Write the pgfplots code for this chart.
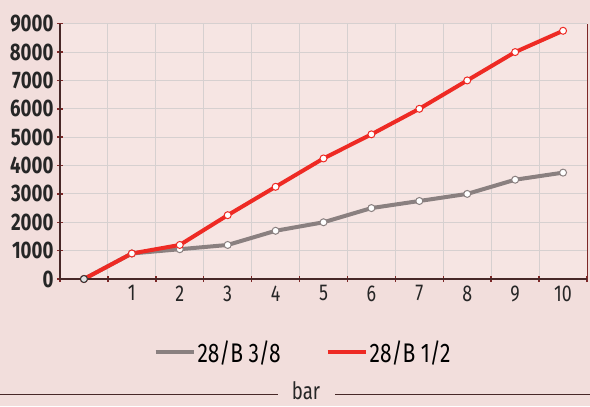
\documentclass[border=0pt]{standalone}
\usepackage{pgfplots}
\pgfplotsset{compat=1.18}
\usepackage{fontspec}
\setmainfont{Fira Sans}[FakeStretch=0.78]
\definecolor{bgpink}{RGB}{242,222,220}
\definecolor{plotpink}{RGB}{246,229,227}
\definecolor{redline}{RGB}{238,42,36}
\definecolor{grayline}{RGB}{138,128,128}
\definecolor{gridc}{RGB}{214,208,208}
\definecolor{spine}{RGB}{72,40,40}
\definecolor{tickc}{RGB}{125,40,40}
\begin{document}
\begin{tikzpicture}[x=1bp,y=1bp]
\useasboundingbox (0,0) rectangle (590,406);
\fill[bgpink] (0,0) rectangle (590,406);
\begin{axis}[
  at={(60bp,127bp)}, anchor=south west,
  scale only axis, width=527bp, height=255.3bp,
  xmin=-0.5, xmax=10.5, ymin=0, ymax=9000,
  clip=false,
  axis background/.style={fill=plotpink},
  axis line style={draw=none},
  xtick={1,...,10},
  minor xtick={-0.5,0.5,...,10.5},
  ytick={0,1000,...,9000},
  xtick pos=bottom, ytick pos=left,
  tick align=center,
  major tick length=6bp, minor tick length=6bp,
  major x tick style={draw=none},
  tick style={tickc, line width=1.5bp},
  ymajorgrids, xminorgrids,
  grid style={gridc, line width=1bp},
  minor grid style={gridc, line width=1bp},
  scaled y ticks=false,
  /pgf/number format/.cd, set thousands separator={}, assume math mode=true,
  /pgfplots/.cd,
  xticklabel style={font=\fontsize{23}{23}\selectfont, text=black!85},
  yticklabel style={font=\bfseries\fontsize{24}{24}\selectfont, text=black!85},
  legend style={at={(0.461,-0.286)}, anchor=center, legend columns=2,
    draw=none, fill=none, font=\fontsize{27}{27}\selectfont,
    /tikz/every even column/.append style={column sep=43bp}},
  legend cell align=left,
  legend image code/.code={\draw[#1] (0bp,0bp) -- (38bp,0bp);},
]
\addplot[grayline, line width=4bp, mark=*, mark size=3.5bp,
  mark options={fill=white, draw=grayline, line width=1bp}] coordinates {
  (0,0) (1,900) (2,1050) (3,1200) (4,1700) (5,2000) (6,2500) (7,2750) (8,3000) (9,3500) (10,3750)};
\addlegendentry{28/B 3/8}
\addplot[redline, line width=4bp, mark=*, mark size=3.5bp,
  mark options={fill=white, draw=redline, line width=1bp}] coordinates {
  (0,0) (1,900) (2,1200) (3,2250) (4,3250) (5,4250) (6,5100) (7,6000) (8,7000) (9,8000) (10,8750)};
\addlegendentry{28/B 1/2}
\addplot[only marks, mark=*, mark size=3.5bp, forget plot,
  mark options={fill=gray!25, draw=black!80, line width=1bp}] coordinates {(0,0)};
\draw[spine, line width=1.5bp] (rel axis cs:0,1) -- (rel axis cs:0,0) -- (rel axis cs:1,0);
\draw[tickc, line width=1bp] (rel axis cs:1,0) -- (rel axis cs:1,1);
\end{axis}
\draw[spine, line width=1bp] (0,12) -- (278,12);
\draw[spine, line width=1bp] (335,12) -- (590,12);
\node[font=\fontsize{24}{24}\selectfont, anchor=base, text=black!85, inner sep=0pt] at (306,7) {bar};
\end{tikzpicture}
\end{document}
